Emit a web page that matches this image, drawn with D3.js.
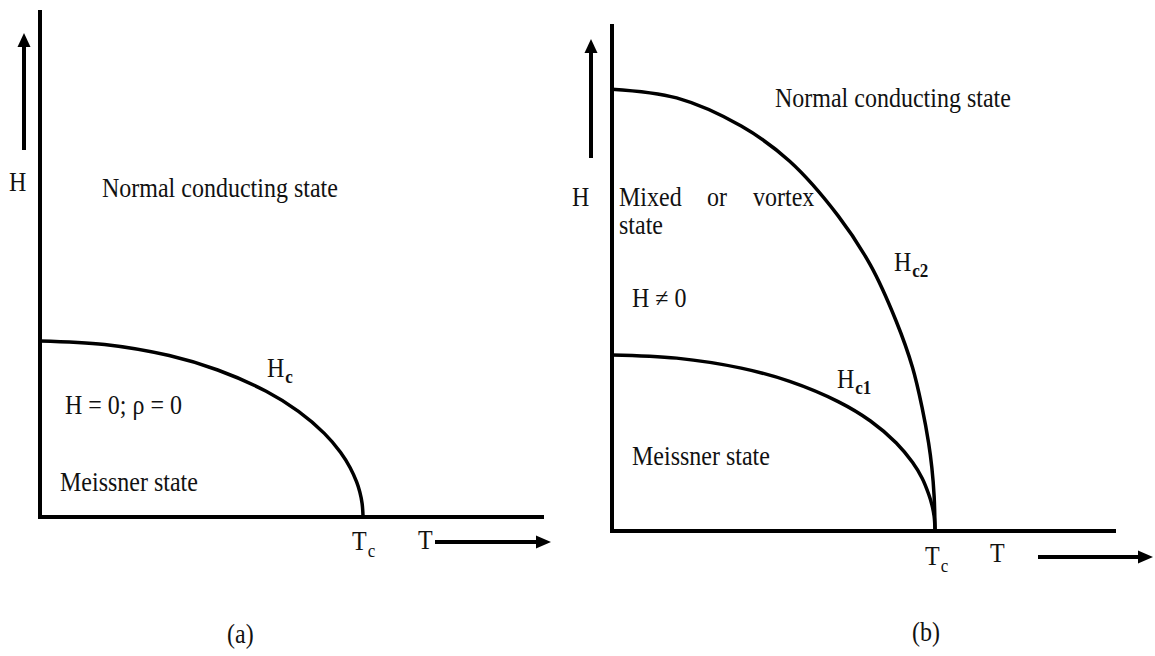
<!DOCTYPE html>
<html>
<head>
<meta charset="utf-8">
<script src="https://cdn.jsdelivr.net/npm/d3@7"></script>
<style>
  html, body { margin: 0; padding: 0; background: #fff; }
  svg { display: block; }
</style>
</head>
<body>
<svg id="chart" width="1155" height="656"></svg>
<script>
// Reduced temperature T/Tc and field in units of Hc(0)
const tMax = 1.56;
const hMax = 2.88;

// (a) type-I superconductor: critical field curve Hc(T)
const hcT = [0, 0.2, 0.4, 0.55, 0.7, 0.8, 0.88, 0.93, 0.96, 0.98, 0.99, 0.997, 1.0];
const hcH = [1.0, 0.98, 0.917, 0.835, 0.714, 0.60, 0.475, 0.368, 0.28, 0.199, 0.141, 0.077, 0.0];

// (b) type-II superconductor: lower and upper critical fields
const hc1T = [0, 0.2, 0.4, 0.55, 0.7, 0.8, 0.88, 0.93, 0.96, 0.98, 0.99, 0.997, 1.0];
const hc1H = [1.0, 0.982, 0.925, 0.85, 0.735, 0.625, 0.50, 0.39, 0.30, 0.21, 0.15, 0.085, 0.0];
const hc2T = [0, 0.2, 0.4, 0.55, 0.7, 0.8, 0.88, 0.93, 0.96, 0.98, 0.99, 0.997, 1.0];
const hc2H = [2.51, 2.46, 2.30, 2.10, 1.79, 1.51, 1.19, 0.93, 0.70, 0.50, 0.36, 0.20, 0.0];

const svg = d3.select("#chart");
const FONT = "'Liberation Serif', 'Times New Roman', Times, serif";

const x = d3.scaleLinear().domain([0, tMax]).range([0, 504]);
const y = d3.scaleLinear().domain([0, hMax]).range([507, 0]);

const line = d3.line()
  .x(d => x(d[0]))
  .y(d => y(d[1]))
  .curve(d3.curveCatmullRom.alpha(0.5));

function zip(a, b) { return a.map((v, i) => [v, b[i]]); }

function arrowUp(g, cx, y0, y1) {
  g.append("line").attr("x1", cx).attr("x2", cx).attr("y1", y0).attr("y2", y1 + 12)
    .attr("stroke", "#000").attr("stroke-width", 4);
  g.append("path").attr("d", `M${cx - 6.5},${y1 + 14} L${cx},${y1} L${cx + 6.5},${y1 + 14} Z`)
    .attr("fill", "#000");
}

function arrowRight(g, cy, x0, x1) {
  g.append("line").attr("x1", x0).attr("x2", x1 - 12).attr("y1", cy).attr("y2", cy)
    .attr("stroke", "#000").attr("stroke-width", 4);
  g.append("path").attr("d", `M${x1 - 15},${cy - 6.5} L${x1},${cy} L${x1 - 15},${cy + 6.5} Z`)
    .attr("fill", "#000");
}

// Serif labels, slightly tall-set; optional subscript
function label(g, px, py, main, sub, opts = {}) {
  const t = g.append("text")
    .attr("transform", `translate(${px},${py}) scale(1,1.1)`)
    .attr("font-family", FONT).attr("font-size", 24).attr("fill", "#111");
  t.append("tspan").text(main);
  if (sub) {
    t.append("tspan").attr("font-size", opts.subSize || 17)
      .attr("dy", opts.subDy || 5)
      .attr("font-weight", opts.subBold ? "bold" : "normal")
      .attr("dx", 1)
      .text(sub);
  }
  return t;
}

function axes(g) {
  g.append("line").attr("x1", x(0)).attr("x2", x(0)).attr("y1", y(0) + 2).attr("y2", y(hMax))
    .attr("stroke", "#000").attr("stroke-width", 4);
  g.append("line").attr("x1", x(0)).attr("x2", x(tMax)).attr("y1", y(0)).attr("y2", y(0))
    .attr("stroke", "#000").attr("stroke-width", 4);
}

function curve(g, T, H) {
  g.append("path").attr("d", line(zip(T, H)))
    .attr("fill", "none").attr("stroke", "#000").attr("stroke-width", 3.5);
}

// ---- Panel (a) ----
const ga = svg.append("g").attr("transform", "translate(40,10)");
axes(ga);
curve(ga, hcT, hcH);
arrowUp(svg, 24, 150, 33);
arrowRight(svg, 542, 435, 551);
label(svg, 9, 191, "H");
label(svg, 102, 197, "Normal conducting state");
label(svg, 267, 377, "H", "c", { subBold: true });
label(svg, 65, 414, "H = 0; ρ = 0");
label(svg, 60, 491, "Meissner state");
label(svg, 352, 550, "T", "c", { subDy: 6 });
label(svg, 418, 549, "T");
label(svg, 227, 643, "(a)");

// ---- Panel (b) ----
const gb = svg.append("g").attr("transform", "translate(612,24)");
axes(gb);
curve(gb, hc2T, hc2H);
curve(gb, hc1T, hc1H);
arrowUp(svg, 591, 158, 39);
arrowRight(svg, 557, 1038, 1153);
label(svg, 572, 206, "H");
label(svg, 775, 107, "Normal conducting state");
label(svg, 619, 206, "Mixed");
label(svg, 707, 206, "or");
label(svg, 753, 206, "vortex");
label(svg, 619, 234, "state");
label(svg, 632, 307, "H ≠ 0");
label(svg, 894, 271, "H", "c2", { subBold: true });
label(svg, 837, 388, "H", "c1", { subBold: true });
label(svg, 632, 465, "Meissner state");
label(svg, 925, 565, "T", "c", { subDy: 6 });
label(svg, 990, 562, "T");
label(svg, 912, 641, "(b)");
</script>
</body>
</html>
